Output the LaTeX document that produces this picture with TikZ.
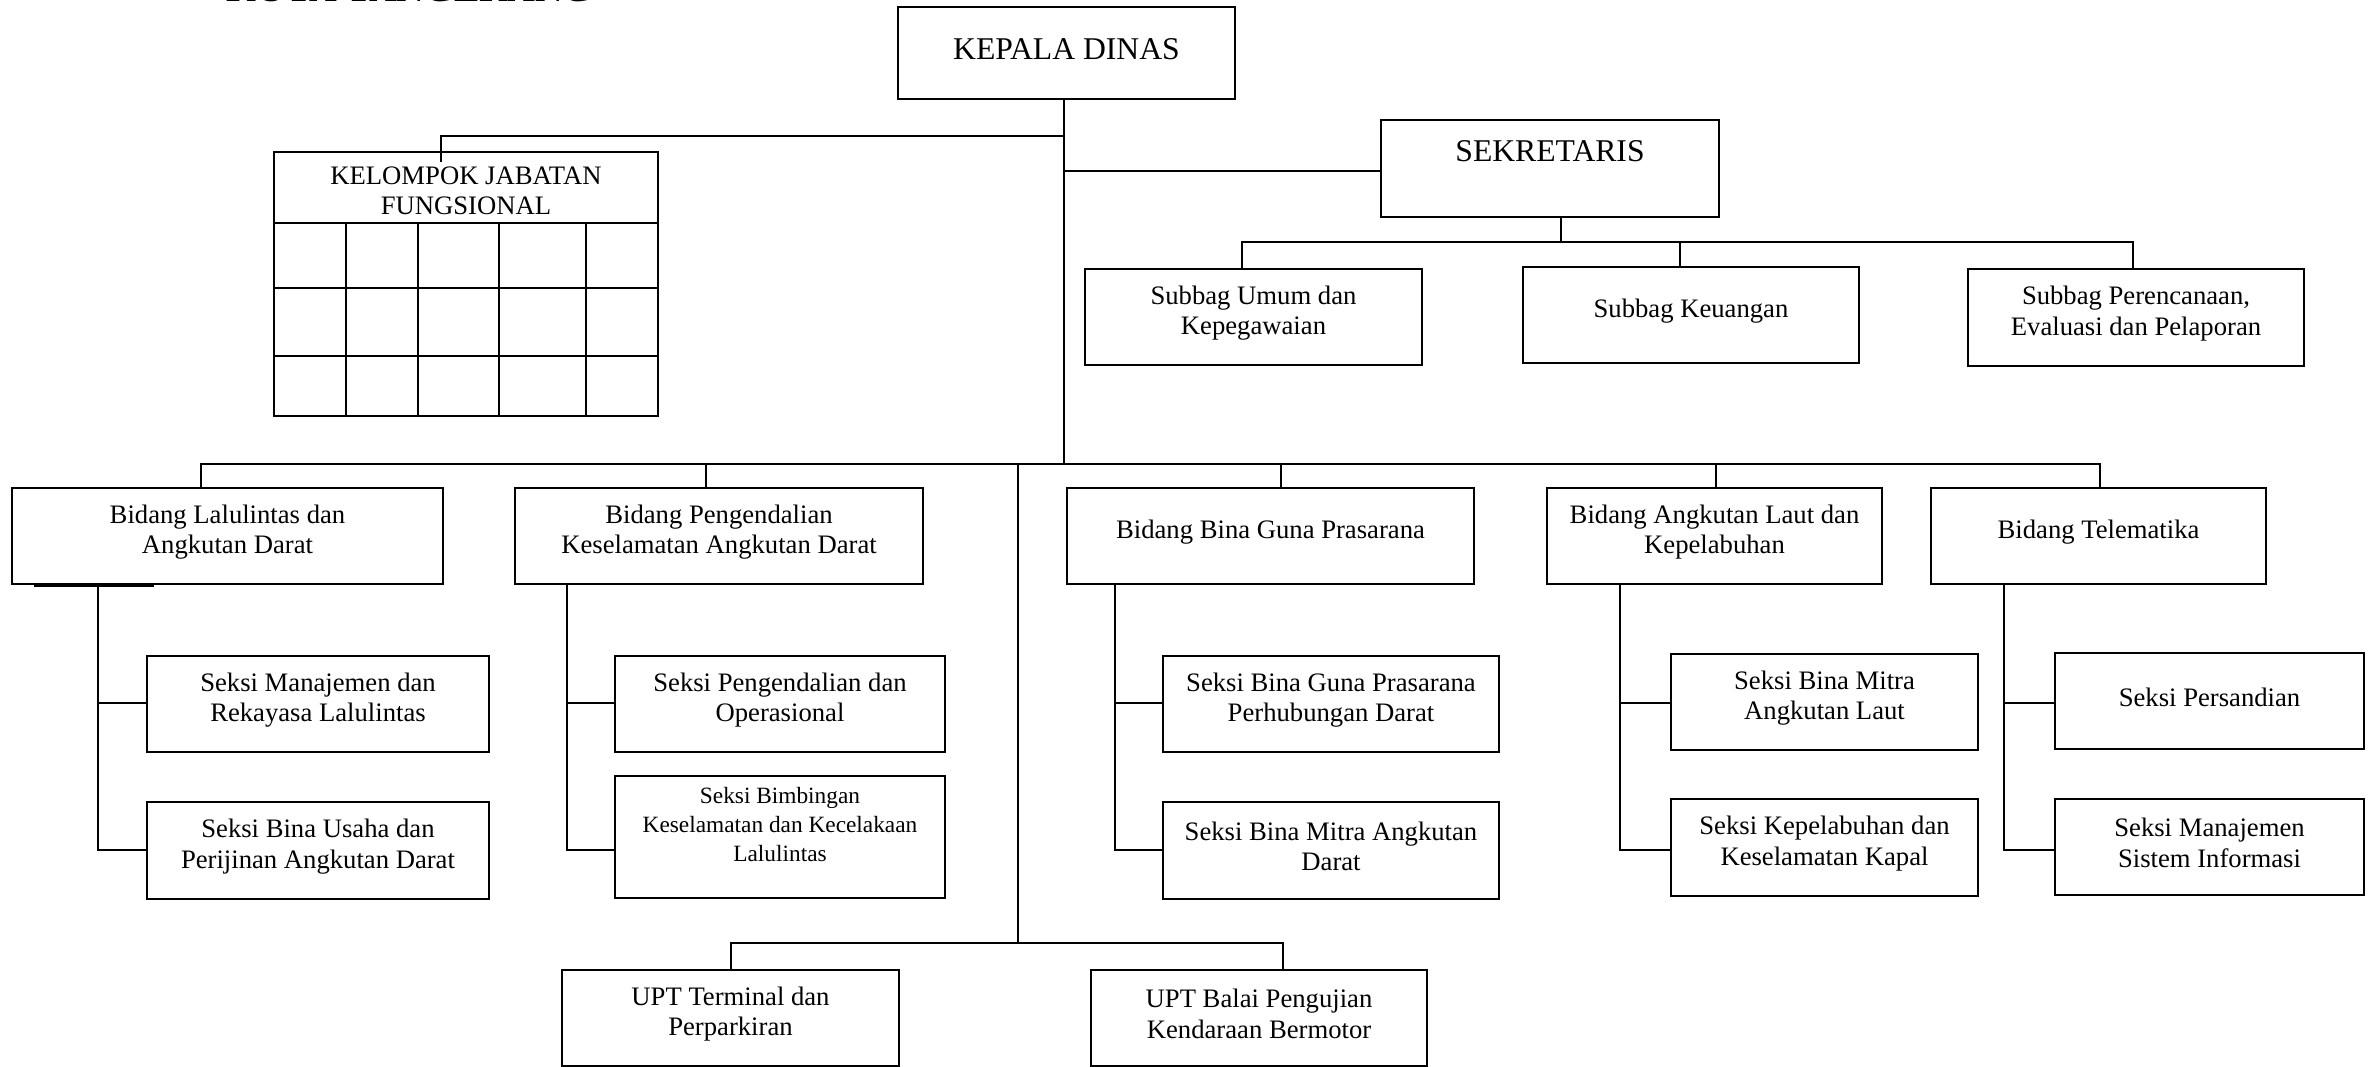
\documentclass[tikz,border=0pt]{standalone}
\usepackage{fontspec}
\setmainfont{Liberation Serif}
\newcommand\fznorm{\fontsize{8}{9.2}\selectfont}
\newcommand\fzsmall{\fontsize{7}{8.8}\selectfont}
\newcommand\fzbig{\fontsize{9.5}{11}\selectfont}
\tikzset{
  boxframe/.style={draw, line width=0.75pt, inner sep=0pt},
  boxtext/.style={inner sep=0pt, align=center, font=\fznorm, yshift=1.2pt},
  link/.style={line width=0.6pt},
}
\newcommand\obox[7][]{%
  \node[boxframe,minimum width={(#5-#3)*0.3pt},minimum height={(#6-#4)*0.3pt}] (#2) at ({(#3+#5)/2},{(#4+#6)/2}) {};
  \node[boxtext,#1] (#2t) at (#2.center) {#7};}
\begin{document}
\begin{tikzpicture}[x=0.3pt,y=-0.3pt]
\useasboundingbox (0,0) rectangle (2369,1066);
% cut-off title at the top
\node[anchor=base west, inner sep=0pt, font=\bfseries\fontsize{11.5}{12}\selectfont] (title) at (226,1) {KOTA TANGERANG};

% top level
\obox[font=\fzbig, yshift=0pt]{kd}{898}{7}{1235}{99}{KEPALA DINAS}
\node[boxframe, minimum width={(1719-1381)*0.3pt}, minimum height={(217-120)*0.3pt}] (sek) at ({(1381+1719)/2},{(120+217)/2}) {};
\node[font=\fzbig, anchor=base, inner sep=0pt] (sekt) at (1550,161) {SEKRETARIS};

% kelompok jabatan fungsional
\obox[yshift=-2.2pt]{kjf}{274}{152}{658}{223}{KELOMPOK JABATAN\\FUNGSIONAL}
\draw[line width=0.75pt] (274,223) rectangle (658,416);
\foreach \yy in {288,356} \draw[line width=0.75pt] (274,\yy) -- (658,\yy);
\foreach \xx in {346,418,499,586} \draw[line width=0.75pt] (\xx,223) -- (\xx,416);

% subbag
\obox{su}{1085}{269}{1422}{365}{Subbag Umum dan\\Kepegawaian}
\obox{sk}{1523}{267}{1859}{363}{Subbag Keuangan}
\obox{sp}{1968}{269}{2304}{366}{Subbag Perencanaan,\\Evaluasi dan Pelaporan}

% bidang
\obox{b1}{12}{488}{443}{584}{Bidang Lalulintas dan\\Angkutan Darat}
\obox{b2}{515}{488}{923}{584}{Bidang Pengendalian\\Keselamatan Angkutan Darat}
\obox{b3}{1067}{488}{1474}{584}{Bidang Bina Guna Prasarana}
\obox{b4}{1547}{488}{1882}{584}{Bidang Angkutan Laut dan\\Kepelabuhan}
\obox{b5}{1931}{488}{2266}{584}{Bidang Telematika}
\draw[line width=0.9pt] (34,585.5) -- (154,585.5);

% seksi
\obox{s1a}{147}{656}{489}{752}{Seksi Manajemen dan\\Rekayasa Lalulintas}
\obox{s1b}{147}{802}{489}{899}{Seksi Bina Usaha dan\\Perijinan Angkutan Darat}
\obox{s2a}{615}{656}{945}{752}{Seksi Pengendalian dan\\Operasional}
\obox[font=\fzsmall, yshift=2.6pt]{s2b}{615}{776}{945}{898}{Seksi Bimbingan\\Keselamatan dan Kecelakaan\\Lalulintas}
\obox{s3a}{1163}{656}{1499}{752}{Seksi Bina Guna Prasarana\\Perhubungan Darat}
\obox{s3b}{1163}{802}{1499}{899}{Seksi Bina Mitra Angkutan\\Darat}
\obox{s4a}{1671}{654}{1978}{750}{Seksi Bina Mitra\\Angkutan Laut}
\obox{s4b}{1671}{799}{1978}{896}{Seksi Kepelabuhan dan\\Keselamatan Kapal}
\obox{s5a}{2055}{653}{2364}{749}{Seksi Persandian}
\obox{s5b}{2055}{799}{2364}{895}{Seksi Manajemen\\Sistem Informasi}

% UPT
\obox{u1}{562}{970}{899}{1066}{UPT Terminal dan\\Perparkiran}
\obox{u2}{1091}{970}{1427}{1066}{UPT Balai Pengujian\\Kendaraan Bermotor}

% junction coordinates
\coordinate (j0) at (1064,136);
\coordinate (j1) at (1064,171);
\coordinate (j2) at (1064,464);
\coordinate (kjin) at (441,162);
\coordinate (sbus) at (1561,242);
\coordinate (sbl) at (1242,242);
\coordinate (sbm) at (1680,242);
\coordinate (sbr) at (2133,242);
\coordinate (bbl) at (201,464);
\coordinate (bb2) at (706,464);
\coordinate (bb3) at (1281,464);
\coordinate (bb4) at (1716,464);
\coordinate (bbr) at (2100,464);
\coordinate (ut) at (1018,464);
\coordinate (ub) at (1018,943);
\coordinate (ubl) at (731,943);
\coordinate (ubr) at (1283,943);

% top connectors
\draw[link] (kd.south -| j2) -- (j2);
\draw[link] (j0) -| (kjin);
\draw[link] (j1) -- (sek.west |- j1);
\draw[link] (sek.south -| sbus) -- (sbus);
\draw[link] (su.north -| sbl) -- (sbl) -- (sbr) -- (sp.north -| sbr);
\draw[link] (sbm) -- (sk.north -| sbm);

% bidang bus
\draw[link] (b1.north -| bbl) -- (bbl) -- (bbr) -- (b5.north -| bbr);
\draw[link] (bb2) -- (b2.north -| bb2);
\draw[link] (bb3) -- (b3.north -| bb3);
\draw[link] (bb4) -- (b4.north -| bb4);

% UPT
\draw[link] (ut) -- (ub);
\draw[link] (u1.north -| ubl) -- (ubl) -- (ubr) -- (u2.north -| ubr);

% seksi stems
\foreach \k/\sx in {1/98,2/567,3/1115,4/1620,5/2004}{
  \coordinate (t\k) at (\sx,703);
  \coordinate (e\k) at (\sx,850);
  \draw[link] (b\k.south -| t\k) -- (e\k) -- (s\k b.west |- e\k);
  \draw[link] (t\k) -- (s\k a.west |- t\k);
}
\end{tikzpicture}
\end{document}
